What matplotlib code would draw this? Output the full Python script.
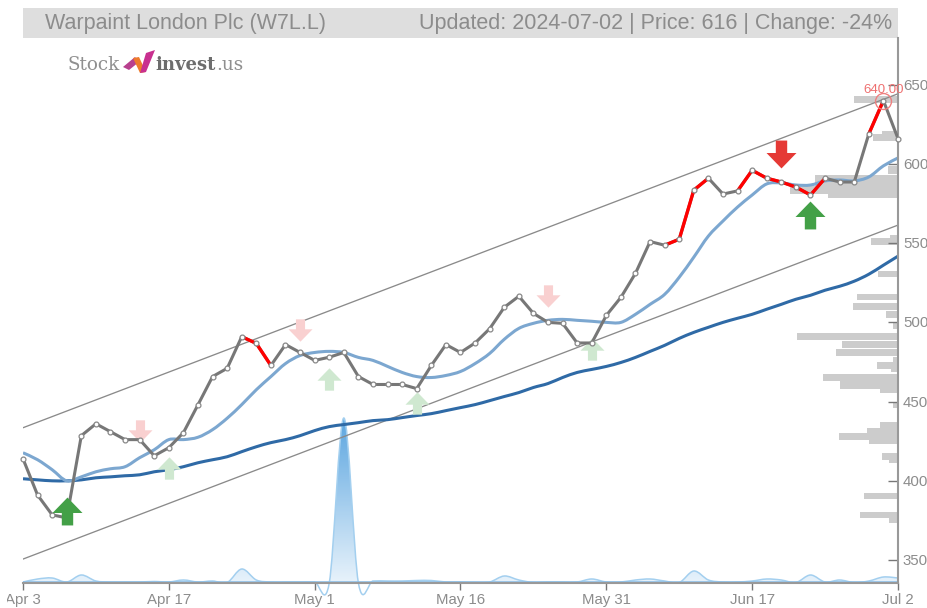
import matplotlib
matplotlib.use("Agg")
import matplotlib.pyplot as plt
import numpy as np
from matplotlib.colors import LinearSegmentedColormap
from matplotlib.patches import PathPatch, Polygon, Rectangle
from matplotlib.path import Path
from matplotlib.transforms import Bbox, ScaledTranslation

plt.rcParams['font.family'] = 'Liberation Sans'

W, H = 928, 608
GREY_TEXT = '#8c8c8c'
Y_MIN, Y_MAX = 335.5, 679.5

tick_idx = [0, 10, 20, 30, 40, 50, 60]
tick_labels = ['Apr 3', 'Apr 17', 'May 1', 'May 16', 'May 31', 'Jun 17', 'Jul 2']
price_ticks = [350, 400, 450, 500, 550, 600, 650]

price = [413.9, 391, 378.5, 376.6, 428.5, 436, 431, 426, 426, 415.8, 420.9, 430.4,
         448, 465.8, 471, 491, 486.7, 472.8, 486, 481, 476, 478, 481, 465.8, 460.8,
         460.8, 460.8, 458.2, 472.8, 486, 481, 487, 496, 509.5, 516.5, 505.7, 500,
         499.4, 487, 487, 504.4, 515.8, 531, 551, 548.7, 552.5, 583.5, 591, 581, 583,
         596, 591, 588.6, 585.4, 580.4, 591, 588.6, 588.6, 619, 640, 616]
# segments (start index) drawn red
red_segments = [15, 16, 44, 45, 46, 49, 50, 51, 52, 53, 54, 58]

ma_short = [417.7, 413.3, 407, 400, 402.5, 405.7, 407.6, 408.9, 414.6, 419.6, 426,
            426, 427.5, 432.3, 439.5, 448.1, 457.5, 465.8, 474, 479.1, 481, 481.7,
            481, 477.9, 476, 472.2, 468.4, 465.8, 465.2, 466.5, 469, 474, 480.4, 489.3,
            496.2, 499.4, 501.3, 501.9, 501.3, 500.7, 500, 500, 505.1, 511.4, 517.7,
            528.5, 541.2, 554.5, 564, 572.8, 580.4, 587.4, 588, 586.7, 586.7, 589.3,
            589.9, 589.3, 591.8, 598.8, 603.8]

ma_long = [401.3, 400.6, 400, 400, 400.6, 401.9, 402.5, 403.2, 403.8, 405.7, 407,
           408.9, 411.4, 413.3, 415.2, 418.4, 421.5, 424.1, 426, 428.5, 431.7, 434.2,
           435.5, 436.7, 438, 438.6, 439.9, 441.2, 442.4, 444.3, 446.2, 448.1, 450.6,
           453.2, 455.7, 458.9, 461.4, 465.2, 468.4, 470.3, 472.2, 474.7, 477.9, 481.7,
           485.5, 489.9, 493.7, 496.9, 500, 502.6, 505.1, 508.3, 511.4, 514.6, 517.1,
           520.3, 522.8, 526, 530.4, 536.1, 541.8]

volume = [1, 4, 5, 1, 8, 2, 1, 1, 1, 1.5, 1, 3, 1, 2, 0.5, 14, 3, 1, 1, 1, 1, 0, 165, 0,
          2, 2, 2, 2.5, 2.5, 1, 1, 0.5, 1, 7, 3, 0.5, 1, 1, 1, 4, 1, 1, 3, 4, 2, 0.5, 12,
          3, 1, 1, 2, 4, 3, 0.5, 8, 1, 3, 0.5, 2, 6, 5]

channel_x = [0, 60]
channel_upper = [433.5, 644.3]
channel_lower = [350.6, 561.4]

# volume at price, right aligned on the price axis
vp_low = [638.6, 619, 614.6, 593.7, 586, 581, 578.5, 553, 548.8, 528.5, 514, 507.6,
          502.6, 495.6, 488.6, 483.6, 478.5, 475.3, 470.3, 468.4, 463.3, 458.2, 455.7,
          446.2, 433.6, 430.4, 426, 423.4, 413.3, 411.4, 388.6, 376.6, 373.4]
vp_high = [643, 620.9, 619, 598.8, 593, 586, 581, 555, 553, 532.3, 517.7, 512, 507, 500,
           493, 488, 482.9, 477.9, 475.3, 470.3, 467.7, 462.7, 458.2, 450, 437.4, 433.6,
           430.4, 426, 417.7, 413.3, 392.4, 380.4, 376.6]
vp_vol = [44, 16, 25, 10, 83, 108, 70, 8, 27, 20, 41, 45, 12, 5, 101, 56, 62, 5, 21, 7,
          75, 58, 18, 5, 18, 31, 59, 29, 16, 9, 34, 38, 9]

sell_strong_x, sell_strong_y = [52], [606.3]
buy_strong_x, buy_strong_y = [3, 54], [381, 567.6]
sell_weak_x, sell_weak_y = [8, 19, 36], [431.6, 495.5, 516.5]
buy_weak_x, buy_weak_y = [10, 21, 27, 39], [408, 464.5, 449.4, 482.9]

high_idx, high_val = 59, 640


def px(x, y):
    return x / W, 1 - y / H


def spline_path(xs, ys):
    # catmull-rom through the points, the volume curve overshoots like the original
    xs = np.asarray(xs, float)
    ys = np.asarray(ys, float)
    pts = np.column_stack([xs, ys])
    verts = [pts[0]]
    for i in range(len(pts) - 1):
        p0 = pts[max(i - 1, 0)]
        p1 = pts[i]
        p2 = pts[i + 1]
        p3 = pts[min(i + 2, len(pts) - 1)]
        verts += [p1 + (p2 - p0) / 6, p2 - (p3 - p1) / 6, p2]
    codes = [Path.MOVETO] + [Path.CURVE4] * (len(verts) - 1)
    return verts, codes


up_arrow = np.array([[0, .93], [1, -.1], [.38, -.1], [.38, -.93], [-.38, -.93], [-.38, -.1], [-1, -.1], [0, .93]])
up_marker = Path(up_arrow, closed=True)
down_marker = Path(up_arrow * [1, -1], closed=True)

fig = plt.figure(figsize=(W / 100, H / 100), dpi=100)
rect = [23 / W, 1 - 583 / H, 875 / W, 545 / H]

# header band
fig.patches.append(Rectangle(px(23, 38), 875 / W, 30 / H, transform=fig.transFigure, color='#dedede', lw=0))
fig.text(*px(45, 23), 'Warpaint London Plc (W7L.L)', fontsize=15.5, color=GREY_TEXT, va='center', ha='left')
fig.text(*px(892, 23), 'Updated: 2024-07-02 | Price: 616 | Change: -24%', fontsize=15.5, color=GREY_TEXT,
         va='center', ha='right')

# logo
fig.text(*px(68, 65), 'Stock', family='DejaVu Serif', fontsize=13.2, color='#8f8f8f', va='center')
fig.text(*px(155, 65), 'invest', family='DejaVu Serif', fontsize=13, weight='bold', color='#6d6d6d', va='center')
fig.text(*px(216, 65), '.us', family='DejaVu Serif', fontsize=13.2, color='#8f8f8f', va='center')
logo_parts = [([(123, 67), (135, 57), (139, 62), (129, 70)], '#b8408e'),
              ([(133, 58), (139, 57), (146, 72), (140, 73)], '#ee7a2c'),
              ([(140, 73), (146, 72), (155, 50), (146, 53)], '#c8308f')]
for verts, col in logo_parts:
    fig.patches.append(Polygon([px(*v) for v in verts], closed=True, transform=fig.transFigure, color=col, lw=0))

# volume at price
ax_vp = fig.add_axes(rect, zorder=1)
ax_vp.set_axis_off()
ax_vp.set_xlim(875, 0)
ax_vp.set_ylim(Y_MIN, Y_MAX)
ax_vp.barh([(a + b) / 2 for a, b in zip(vp_low, vp_high)], vp_vol,
           height=[b - a for a, b in zip(vp_low, vp_high)], color='#cccccc', lw=0)

# volume curve with gradient fill
ax_vol = fig.add_axes(rect, zorder=2)
ax_vol.set_axis_off()
vx = np.arange(len(volume))
verts, codes = spline_path(vx, volume)
fill_path = Path(verts + [(60, 0), (0, 0), (0, volume[0])],
                 codes + [Path.LINETO, Path.LINETO, Path.CLOSEPOLY])
clip = PathPatch(fill_path, transform=ax_vol.transData, fc='none', ec='none')
ax_vol.add_patch(clip)
cmap = LinearSegmentedColormap.from_list('vol', ['#f2f8fd', '#5ca6e0'])
grad = np.linspace(1, 0, 128).reshape(-1, 1)
img = ax_vol.imshow(grad, extent=[0, 60, -12, 165], aspect='auto', cmap=cmap, zorder=1)
img.set_clip_path(clip)
ax_vol.add_patch(PathPatch(Path(verts, codes), fc='none', ec='#a3cfef', lw=1.1, zorder=2, clip_on=False))
ax_vol.plot([0, 60], [1, 1], color='#8fc0e8', lw=1.2, zorder=2)
ax_vol.set_xlim(0, 60)
ax_vol.set_ylim(0, 545)

# main chart
ax = fig.add_axes(rect, zorder=3)
ax.patch.set_visible(False)
ax.set_xlim(0, 60)
ax.set_ylim(Y_MIN, Y_MAX)

ax.plot(channel_x, channel_upper, color='#8a8a8a', lw=0.95)
ax.plot(channel_x, channel_lower, color='#8a8a8a', lw=0.95)

x = np.arange(len(price))
for series, col in [(ma_long, '#2f6aa6'), (ma_short, '#7ca7d0')]:
    v, c = spline_path(x, series)
    ax.add_patch(PathPatch(Path(v, c), fc='none', ec=col, lw=2.2, zorder=2))

ax.scatter(sell_weak_x, sell_weak_y, marker=down_marker, s=299, color='#f9d0d0', lw=0, zorder=3)
ax.scatter(buy_weak_x, buy_weak_y, marker=up_marker, s=299, color='#cfe8d0', lw=0, zorder=3)

ax.plot(x, price, color='#777777', lw=2.2, zorder=4, solid_joinstyle='round')
for i in red_segments:
    ax.plot(x[i:i + 2], price[i:i + 2], color='#ff0000', lw=2.4, zorder=5, solid_capstyle='butt')
ax.plot(x, price, ls='none', marker='o', ms=3.5, mfc='white', mec='#888888', mew=0.9, zorder=6, clip_on=False)

ax.scatter(sell_strong_x, sell_strong_y, marker=down_marker, s=466, color='#e53935', lw=0, zorder=7)
ax.scatter(buy_strong_x, buy_strong_y, marker=up_marker, s=466, color='#43a047', lw=0, zorder=7)

# highest point
ax.plot([high_idx], [high_val], ls='none', marker='o', ms=11.5, mfc='none', mec='#ee8080', mew=1, zorder=7)
ax.annotate('640.00', (high_idx, high_val), xytext=(0, 3.5), textcoords='offset points', ha='center', va='bottom',
            fontsize=9.5, color='#ee7070', annotation_clip=False, zorder=8)

ax.yaxis.tick_right()
ax.set_xticks(tick_idx)
ax.set_xticklabels(tick_labels)
ax.set_yticks(price_ticks)
ax.tick_params(axis='x', direction='out', length=5, width=1, color='#777777', labelsize=10.8,
               labelcolor=GREY_TEXT, pad=2)
ax.tick_params(axis='y', direction='in', length=7.5, width=1, color='#777777', labelsize=10.8,
               labelcolor=GREY_TEXT, pad=3.5)
for side in ['left', 'top']:
    ax.spines[side].set_visible(False)
for side in ['right', 'bottom']:
    ax.spines[side].set_color('#999999')
    ax.spines[side].set_linewidth(1.5)

# price labels sit a little above their ticks
lift = ScaledTranslation(0, 0.5 / 100, fig.dpi_scale_trans)
for lab in ax.get_yticklabels():
    lab.set_transform(lab.get_transform() + lift)

# first date label is cut at the left edge in the original
first = ax.get_xticklabels()[0]
first.set_clip_on(True)
first.set_clip_box(Bbox([[7, 0], [W, H]]))

fig.savefig('out.png', dpi=100)
